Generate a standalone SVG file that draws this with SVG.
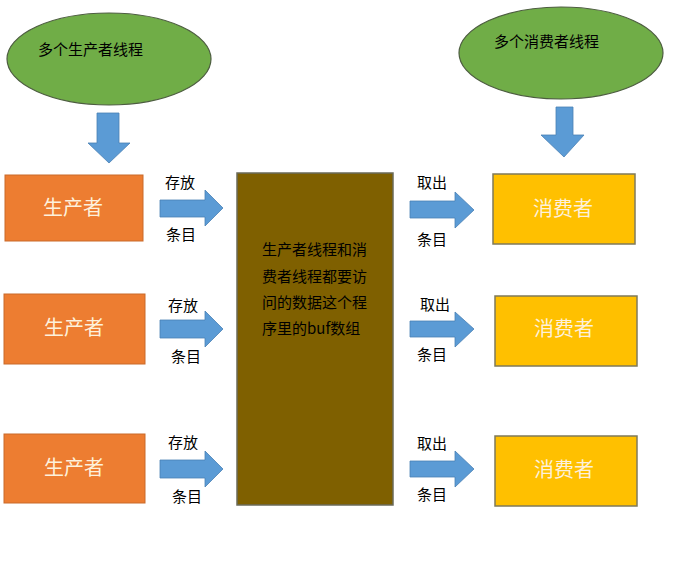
<svg xmlns="http://www.w3.org/2000/svg" width="680" height="565" viewBox="0 0 680 565">
<style>
text{font-family:"Noto Sans CJK SC","Noto Sans",sans-serif}
.ell{fill:#70AD47;stroke:#4d5d40;stroke-width:1.2}
.prod{fill:#ED7D31;stroke:#c96a2a;stroke-width:1}
.cons{fill:#FFC000;stroke:#7f7a5a;stroke-width:1.5}
.buf{fill:#7F6000;stroke:#6b6b5a;stroke-width:1.5}
.arr{fill:#5B9BD5;stroke:#4a80b4;stroke-width:0.8}
.bx{font-size:20px;fill:#fdf1dc;text-anchor:middle}
.lbl{font-size:15px;fill:#000}
.t{font-size:15px;fill:#000}
</style>
<rect width="680" height="565" fill="#fff"/>
<g id="producers-threads">
<ellipse class="ell" cx="109" cy="59" rx="102" ry="46"/>
<text class="t" x="38" y="55">多个生产者线程</text>
</g>
<g id="consumers-threads">
<ellipse class="ell" cx="561" cy="53" rx="102" ry="46"/>
<text class="t" x="494" y="47">多个消费者线程</text>
</g>
<g id="producer1"><rect class="prod" x="5" y="175" width="138" height="66"/><text class="bx" x="73" y="215">生产者</text></g>
<g id="producer2"><rect class="prod" x="4" y="294" width="141" height="70"/><text class="bx" x="74" y="335">生产者</text></g>
<g id="producer3"><rect class="prod" x="4" y="434" width="141" height="69"/><text class="bx" x="74" y="475">生产者</text></g>
<g id="buffer">
<rect class="buf" x="237" y="173" width="156" height="332"/>
<text class="t" x="262" y="255">生产者线程和消</text>
<text class="t" x="262" y="282">费者线程都要访</text>
<text class="t" x="262" y="308">问的数据这个程</text>
<text class="t" x="262" y="334">序里的buf数组</text>
</g>
<g id="consumer1"><rect class="cons" x="493" y="174" width="142" height="70"/><text class="bx" x="563" y="216">消费者</text></g>
<g id="consumer2"><rect class="cons" x="495" y="296" width="142" height="70"/><text class="bx" x="564" y="336">消费者</text></g>
<g id="consumer3"><rect class="cons" x="495" y="436" width="142" height="70"/><text class="bx" x="564" y="477">消费者</text></g>
<g id="connectors">
<polygon class="arr" points="97,113 119,113 119,143 130,143 109,163 88,143 97,143"/>
<polygon class="arr" points="556,107 573,107 573,135 584,135 564,157 541,135 556,135"/>
<polygon class="arr" points="160,200 205,200 205,190 223,208 205,226 205,217 160,217"/>
<polygon class="arr" points="160,320 205,320 205,311 223,329 205,347 205,338 160,338"/>
<polygon class="arr" points="160,460 205,460 205,451 223,469 205,487 205,478 160,478"/>
<polygon class="arr" points="410,201 455,201 455,192 474,210 455,228 455,218 410,218"/>
<polygon class="arr" points="410,321 455,321 455,312 474,329 455,347 455,337 410,337"/>
<polygon class="arr" points="410,461 455,461 455,451 474,469 455,487 455,477 410,477"/>
<text class="lbl" x="165" y="188">存放</text>
<text class="lbl" x="166" y="240">条目</text>
<text class="lbl" x="168" y="311">存放</text>
<text class="lbl" x="171" y="362">条目</text>
<text class="lbl" x="168" y="448">存放</text>
<text class="lbl" x="172" y="502">条目</text>
<text class="lbl" x="417" y="188">取出</text>
<text class="lbl" x="417" y="245">条目</text>
<text class="lbl" x="420" y="310">取出</text>
<text class="lbl" x="417" y="360">条目</text>
<text class="lbl" x="417" y="449">取出</text>
<text class="lbl" x="417" y="500">条目</text>
</g>
</svg>
